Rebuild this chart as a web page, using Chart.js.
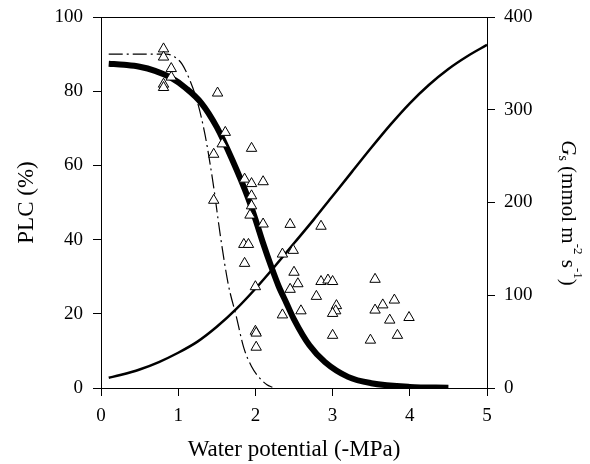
<!DOCTYPE html>
<html><head><meta charset="utf-8">
<script src="https://cdn.jsdelivr.net/npm/chart.js@4/dist/chart.umd.min.js"></script>
<style>html,body{margin:0;padding:0;background:#fff}canvas{display:block}</style>
</head><body>
<canvas id="c" width="590" height="464"></canvas>
<script>
// ---- data ----
const xTicks = [0, 1, 2, 3, 4, 5];
const plcTicks = [0, 20, 40, 60, 80, 100];
const gsTicks = [0, 100, 200, 300, 400];

// observed PLC (%) – open triangles
const obsX = [0.81,0.81,0.91,0.91,0.81,0.81,1.51,1.61,1.57,1.46,1.95,1.86,1.95,2.10,1.95,1.95,1.93,1.46,2.10,2.45,2.85,1.85,1.91,1.86,2.35,2.49,2.50,2.55,2.45,2.00,2.85,2.94,3.00,3.55,2.79,2.35,2.59,3.05,3.04,3.00,3.00,3.55,3.65,3.80,3.74,3.99,3.84,3.49,2.00,2.01,2.01];
const obsY = [91.4,89.2,86.1,83.8,81.9,81.0,79.5,68.9,65.8,63.0,64.6,56.3,55.1,55.6,51.8,49.1,46.6,50.6,44.2,44.1,43.6,38.7,38.7,33.6,36.1,37.1,31.2,28.1,26.6,27.3,28.7,29.1,28.7,29.3,24.7,19.7,20.8,22.2,20.8,20.1,14.2,21.0,22.4,23.7,18.3,19.0,14.2,12.9,15.3,14.8,11.0];

// fitted PLC curve (thick)
const fitX = [0.1,0.3,0.5,0.7,0.9,1.1,1.3,1.5,1.7,1.9,2.0,2.1,2.2,2.3,2.4,2.5,2.7,2.9,3.2,3.5,4.0,4.5];
const fitY = [87.4,87.1,86.6,85.5,83.7,80.8,76.8,70.3,61.5,51.5,45.5,39.0,33.0,27.5,23.0,18.5,11.5,7.0,3.0,1.3,0.3,0.1];

// second PLC curve (dash-dot)
const ddX = [0.1,0.5,0.85,0.95,1.05,1.15,1.25,1.35,1.45,1.55,1.65,1.75,1.85,1.95,2.05,2.15,2.22];
const ddY = [90,90,90,89.3,87.3,83,77,68,55.5,40.5,27.8,19.5,10.8,5.8,2.8,0.9,0.2];

// stomatal conductance Gs (right axis)
const gsX = [0.1,0.25,0.5,0.75,1.0,1.25,1.5,1.75,2.0,2.25,2.5,2.75,3.0,3.25,3.5,3.75,4.0,4.25,4.5,4.75,5.0];
const gsY = [11,14,20,28,38,50,66,85,107,131,156,181,207,233,259,284,307,327,344,358,370];

const FONT = "'Liberation Serif', 'Times New Roman', serif";
Chart.defaults.font.family = FONT;
Chart.defaults.color = '#000';

const pts = (xs, ys) => xs.map((x, i) => ({x, y: ys[i]}));

const frame = {
  id: 'frame',
  afterDraw(chart) {
    const {ctx, chartArea: a} = chart;
    ctx.save();
    ctx.strokeStyle = '#000';
    ctx.lineWidth = 1;
    ctx.beginPath();
    ctx.moveTo(a.left, a.top + 0.5);
    ctx.lineTo(a.right, a.top + 0.5);
    ctx.stroke();
    // right axis title with sub/superscripts
    const parts = [
      {t: 'G', f: 'italic 21px ' + FONT, dy: 0},
      {t: 's', f: '14px ' + FONT, dy: 5},
      {t: ' (mmol m', f: '21px ' + FONT, dy: 0},
      {t: '-2', f: '13px ' + FONT, dy: -9},
      {t: ' s', f: '21px ' + FONT, dy: 0},
      {t: '-1', f: '13px ' + FONT, dy: -9},
      {t: ')', f: '21px ' + FONT, dy: 0}
    ];
    let total = 0;
    parts.forEach(p => { ctx.font = p.f; p.w = ctx.measureText(p.t).width; total += p.w; });
    ctx.translate(568, 213);
    ctx.rotate(Math.PI / 2);
    ctx.fillStyle = '#000';
    ctx.textBaseline = 'middle';
    ctx.textAlign = 'left';
    let x = -total / 2;
    parts.forEach(p => { ctx.font = p.f; ctx.fillText(p.t, x, p.dy); x += p.w; });
    ctx.restore();
  }
};

const tickSetter = arr => scale => { scale.ticks = arr.map(v => ({value: v})); };
const fitV = w => s => { s.width = w; s.paddingTop = 0; s.paddingBottom = 0; };

new Chart(document.getElementById('c'), {
  type: 'scatter',
  data: {
    datasets: [
      {label: 'Gs', data: pts(gsX, gsY), yAxisID: 'yR', showLine: true, borderColor: '#000', borderWidth: 2.5, pointRadius: 0, cubicInterpolationMode: 'monotone', fill: false, order: 3},
      {label: 'PLC2', data: pts(ddX, ddY), yAxisID: 'y', showLine: true, borderColor: '#000', borderWidth: 1.2, borderDash: [14, 4, 2, 4], pointRadius: 0, cubicInterpolationMode: 'monotone', fill: false, order: 2},
      {label: 'PLC fit', data: pts(fitX, fitY), yAxisID: 'y', showLine: true, borderColor: '#000', borderWidth: 6, pointRadius: 0, cubicInterpolationMode: 'monotone', fill: false, order: 1},
      {label: 'PLC obs', data: pts(obsX, obsY), yAxisID: 'y', showLine: false, pointStyle: 'triangle', pointRadius: 6, borderColor: '#000', backgroundColor: '#fff', pointBorderWidth: 1, order: 0}
    ]
  },
  options: {
    responsive: false,
    animation: false,
    devicePixelRatio: 1,
    layout: {padding: {top: 17, left: 0, right: 0, bottom: 0}},
    plugins: {legend: {display: false}, tooltip: {enabled: false}},
    scales: {
      x: {
        type: 'linear', position: 'bottom', min: 0, max: 5,
        afterBuildTicks: tickSetter(xTicks),
        afterFit(s) { s.height = 76; s.paddingLeft = 0; s.paddingRight = 0; },
        grid: {display: true, drawOnChartArea: false, drawTicks: true, tickLength: 8, color: '#000'},
        border: {display: true, color: '#000', width: 1},
        ticks: {padding: 9, font: {size: 19}, color: '#000'},
        title: {display: true, text: 'Water potential (-MPa)', font: {size: 23}, color: '#000', padding: {top: 0, bottom: 0}}
      },
      y: {
        type: 'linear', position: 'left', min: 0, max: 100,
        afterBuildTicks: tickSetter(plcTicks),
        afterFit: fitV(101),
        grid: {display: true, drawOnChartArea: false, drawTicks: true, tickLength: 8, color: '#000'},
        border: {display: true, color: '#000', width: 1},
        ticks: {padding: 10, font: {size: 19}, color: '#000'},
        title: {display: true, text: 'PLC (%)', font: {size: 23}, color: '#000', padding: {top: 13, bottom: 0}}
      },
      yR: {
        type: 'linear', position: 'right', min: 0, max: 400,
        afterBuildTicks: tickSetter(gsTicks),
        afterFit: fitV(103),
        grid: {display: true, drawOnChartArea: false, drawTicks: true, tickLength: 8, color: '#000'},
        border: {display: true, color: '#000', width: 1},
        ticks: {padding: 9, font: {size: 19}, color: '#000'}
      }
    }
  },
  plugins: [frame]
});
</script>
</body></html>
